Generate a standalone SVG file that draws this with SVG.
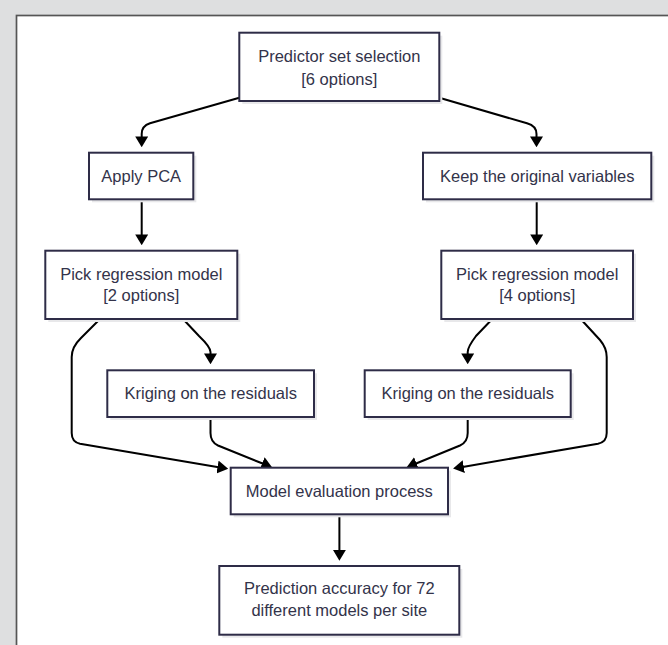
<svg xmlns="http://www.w3.org/2000/svg" width="668" height="645" viewBox="0 0 668 645">
<style>
.node rect.box{fill:#ffffff;stroke:#2e2c47;stroke-width:2}
.node rect.sh{fill:#e8e8ea}
.node text{font-family:"Liberation Sans",Arial,sans-serif;font-size:16.5px;fill:#33334a;text-anchor:middle}
.edges path{fill:none;stroke:#000;stroke-width:2}
</style>
<defs>
<marker id="ah" viewBox="0 0 10 12" refX="1" refY="6" markerUnits="userSpaceOnUse" markerWidth="11" markerHeight="13" orient="auto">
<path d="M0,0 L10,6 L0,12 z" fill="#000"/>
</marker>
</defs>
<rect x="0" y="0" width="668" height="645" fill="#dedfe0"/>
<rect x="16.5" y="15.5" width="660" height="640" fill="#ffffff" stroke="#555555" stroke-width="1.7"/>

<g class="edges">
<path d="M239.3,97.7 L150,123.3 Q141.7,126 141.7,134 L141.7,137.5" marker-end="url(#ah)"/>
<path d="M439.3,97.7 L527,123.3 Q536.5,126 536.5,134 L536.5,137.5" marker-end="url(#ah)"/>
<path d="M141.7,199.3 L141.7,235.5" marker-end="url(#ah)"/>
<path d="M536.7,199.3 L536.7,235.5" marker-end="url(#ah)"/>
<path d="M183,319 L199,336 Q210.5,347 210.5,352 L210.5,354.5" marker-end="url(#ah)"/>
<path d="M100,319 L81,338 Q71.7,347 71.7,357 L71.7,433 Q71.7,442 80,443.7 L218.6,467.2" marker-end="url(#ah)"/>
<path d="M210.5,417 L210.5,433 Q210.5,442 218,445.5 L263.2,463.8" marker-end="url(#ah)"/>
<path d="M467.7,417 L467.7,433 Q467.7,442 460,445.5 L415.5,463.7" marker-end="url(#ah)"/>
<path d="M492.3,319 L476,336 Q467.7,347 467.7,352 L467.7,354.5" marker-end="url(#ah)"/>
<path d="M580.7,319 L600,340 Q606.7,348 606.7,357 L606.7,433 Q606.7,442 598,443.7 L462.7,466.9" marker-end="url(#ah)"/>
<path d="M339.4,514.3 L339.4,551" marker-end="url(#ah)"/>
</g>

<g id="n-predictor" class="node">
<rect class="sh" x="242.3" y="35.7" width="200" height="68.3"/>
<rect class="box" x="239.3" y="32.7" width="200" height="68.3"/>
<text x="339.3" y="62">Predictor set selection</text>
<text x="339.3" y="84.5">[6 options]</text>
</g>
<g id="n-pca" class="node">
<rect class="sh" x="92" y="155.7" width="104.3" height="46.6"/>
<rect class="box" x="89" y="152.7" width="104.3" height="46.6"/>
<text x="141.2" y="181.7">Apply PCA</text>
</g>
<g id="n-keep" class="node">
<rect class="sh" x="426" y="155.7" width="228.3" height="46.6"/>
<rect class="box" x="423" y="152.7" width="228.3" height="46.6"/>
<text x="537.2" y="181.7">Keep the original variables</text>
</g>
<g id="n-pick-left" class="node">
<rect class="sh" x="48.3" y="253.7" width="192" height="68.3"/>
<rect class="box" x="45.3" y="250.7" width="192" height="68.3"/>
<text x="141.3" y="279.7">Pick regression model</text>
<text x="141.3" y="301.2">[2 options]</text>
</g>
<g id="n-pick-right" class="node">
<rect class="sh" x="444.3" y="253.7" width="191.7" height="68.3"/>
<rect class="box" x="441.3" y="250.7" width="191.7" height="68.3"/>
<text x="537.2" y="279.7">Pick regression model</text>
<text x="537.2" y="301.2">[4 options]</text>
</g>
<g id="n-krig-left" class="node">
<rect class="sh" x="110.3" y="373.3" width="206.7" height="46.7"/>
<rect class="box" x="107.3" y="370.3" width="206.7" height="46.7"/>
<text x="210.7" y="398.7">Kriging on the residuals</text>
</g>
<g id="n-krig-right" class="node">
<rect class="sh" x="367.7" y="373.3" width="206" height="46.7"/>
<rect class="box" x="364.7" y="370.3" width="206" height="46.7"/>
<text x="467.7" y="398.7">Kriging on the residuals</text>
</g>
<g id="n-eval" class="node">
<rect class="sh" x="233.7" y="470.7" width="217.3" height="46.6"/>
<rect class="box" x="230.7" y="467.7" width="217.3" height="46.6"/>
<text x="339.3" y="496.7">Model evaluation process</text>
</g>
<g id="n-accuracy" class="node">
<rect class="sh" x="222.3" y="569" width="240" height="68.7"/>
<rect class="box" x="219.3" y="566" width="240" height="68.7"/>
<text x="339.3" y="594.2">Prediction accuracy for 72</text>
<text x="339.3" y="616">different models per site</text>
</g>
</svg>
